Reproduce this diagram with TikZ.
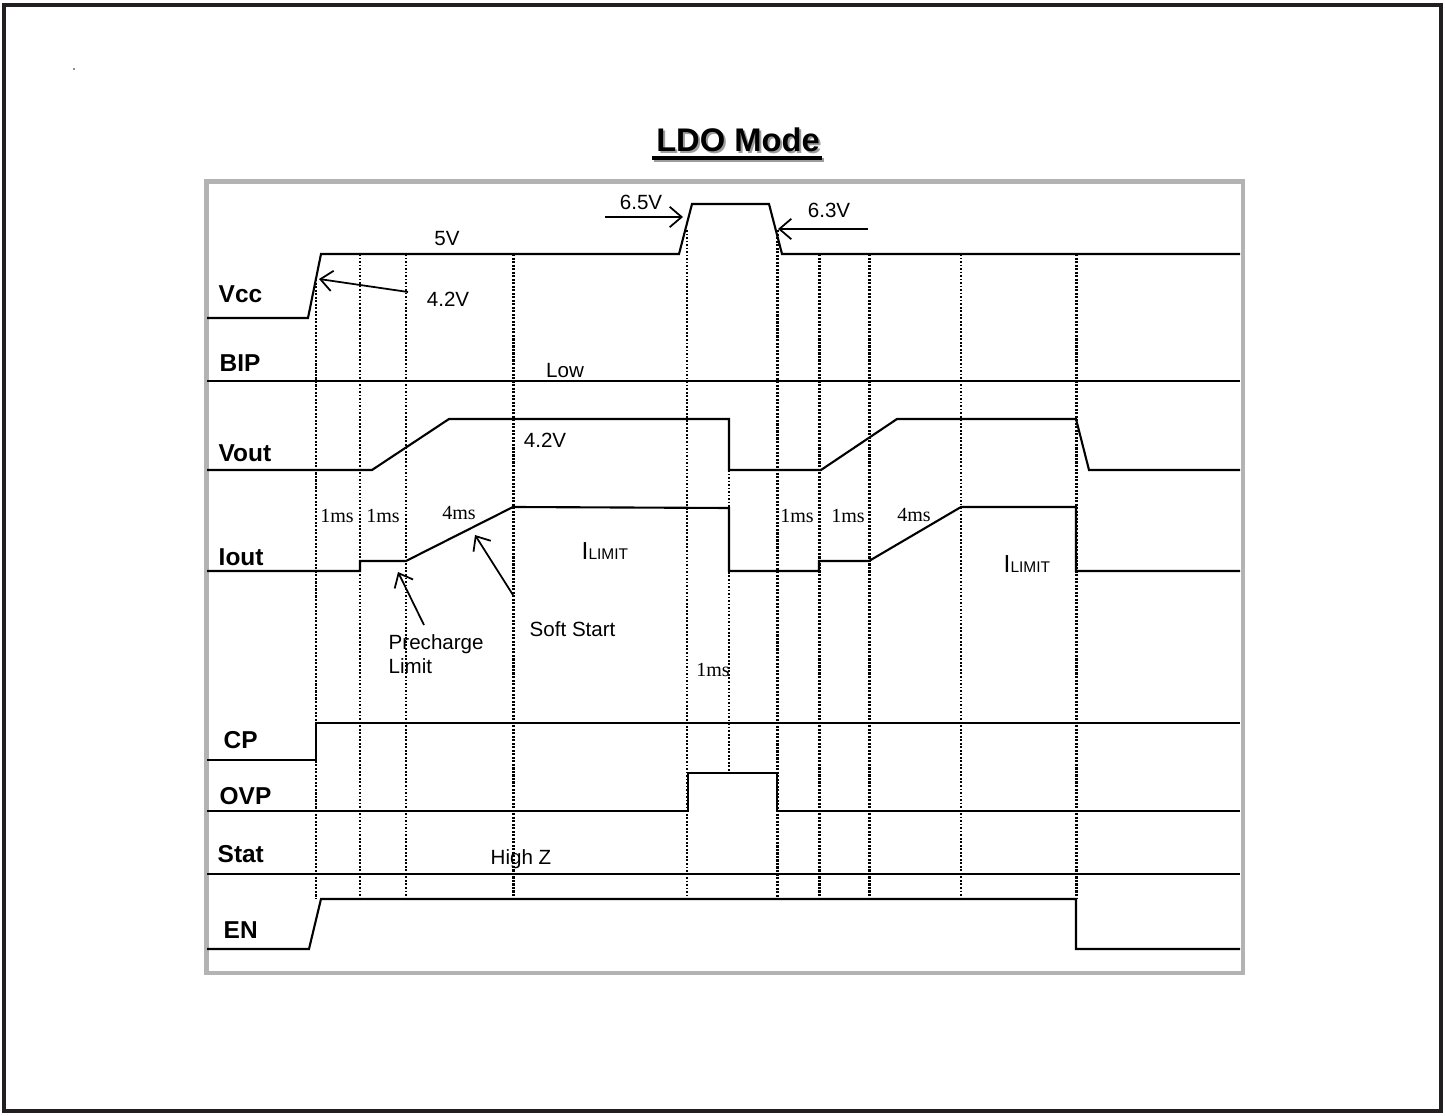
\documentclass[tikz,border=0pt]{standalone}
\usepackage{fontspec}
\setmainfont{Liberation Sans}
\newfontfamily\timesfont{Liberation Serif}
\usetikzlibrary{arrows.meta}
\definecolor{framegray}{HTML}{B3B3B3}
\definecolor{shadowgray}{HTML}{9C9C9C}
\definecolor{outline}{HTML}{231F20}
\newcommand{\titlefont}{\fontsize{9.3}{11}\selectfont\bfseries}
\newcommand{\sigfont}{\fontsize{6.95}{8}\selectfont\bfseries}
\newcommand{\notefont}{\fontsize{5.85}{7}\selectfont}
\newcommand{\msfont}{\timesfont\fontsize{5.7}{7}\selectfont}

\begin{document}
\begin{tikzpicture}[x=0.01cm,y=-0.01cm,
  sig/.style={line width=0.6pt,line join=miter},
  gridline/.style={line width=0.85pt,dash pattern=on 0.6pt off 0.4pt},
  thingrid/.style={line width=0.55pt,dash pattern=on 0.5pt off 0.5pt},
  note/.style={font=\notefont,anchor=base,inner sep=0pt},
  lbl/.style={font=\sigfont,anchor=base west,inner sep=0pt},
  ms/.style={font=\msfont,anchor=base,inner sep=0pt},
  pointer/.style={line width=0.5pt,-{Straight Barb[length=3.4pt,width=5.8pt]}}]

\useasboundingbox (0,0) rectangle (1445,1116);

% ===== Frames =====
\draw[outline,line width=1.15pt] (4,5) rectangle (1441,1111);
\fill[outline] (74,69) circle (0.8);
\draw[framegray,line width=1.4pt] (206.5,181.5) rectangle (1243,973);

% Title
\fill[shadowgray] (654,158.5) rectangle (824,162.5);
\fill (652,156.5) rectangle (822,160.5);
\node[font=\titlefont,text=shadowgray,anchor=base,inner sep=0pt] (titleshadow) at (740,153.5) {LDO Mode};
\node[font=\titlefont,anchor=base,inner sep=0pt] (title) at (738,152) {LDO Mode};

% ===== Time markers =====
\foreach \x/\ytop in {316/279,513/254,777/230,819/254,869/254,1076/254}
  \draw[gridline] (\x,\ytop) -- (\x,899);
\foreach \x/\ytop in {360/254,406/254,687/230,961/254}
  \draw[thingrid] (\x,\ytop) -- (\x,899);
\draw[thingrid] (729,470) -- (729,773);

% ===== Signal names =====
\node[lbl] (vcc) at (218,303) {Vcc};
\node[lbl] (bip) at (219,372) {BIP};
\node[lbl] (vout) at (218,462) {Vout};
\node[lbl] (iout) at (218,566) {Iout};
\node[lbl] (cp) at (223,749) {CP};
\node[lbl] (ovp) at (219,805) {OVP};
\node[lbl] (stat) at (217,863) {Stat};
\node[lbl] (en) at (223,939) {EN};

% ===== Waveforms =====
% Vcc
\draw[sig] (207,318) -- (308,318) -- (321,254) -- (679,254) -- (692,204) -- (769,204)
  -- (782,254) -- (1240,254);
% BIP
\draw[sig] (207,381) -- (1240,381);
% Vout
\draw[sig] (207,470) -- (372,470) -- (449,419) -- (729,419) -- (729,470) -- (821,470)
  -- (897,419) -- (1076,419) -- (1089,470) -- (1240,470);
% Iout
\draw[sig] (207,571) -- (360,571) -- (360,561) -- (406,561) -- (513,507) -- (729,508)
  -- (729,571) -- (819,571) -- (819,561) -- (869,561) -- (961,507) -- (1076,507)
  -- (1076,571) -- (1240,571);
% CP
\draw[sig] (207,760) -- (316,760) -- (316,723) -- (1240,723);
% OVP
\draw[sig] (207,811) -- (688,811) -- (688,773) -- (777,773) -- (777,811) -- (1240,811);
% Stat
\draw[sig] (207,874) -- (1240,874);
% EN
\draw[sig] (207,949) -- (309,949) -- (321,899) -- (1076,899) -- (1076,949) -- (1240,949);

% ===== Levels and annotations =====
\node[note] (vcchigh) at (447,246) {5V};
\node[note] (vccth) at (448,307) {4.2V};
\node[note] (ovpth) at (641,210) {6.5V};
\node[note] (ovprel) at (829,218) {6.3V};
\node[note] (biplow) at (565,378) {Low};
\node[note] (vreg) at (545,448) {4.2V};
\node[note] (highz) at (521,865) {High Z};

\coordinate (vccthtail) at (408,292);
\coordinate (vccthtip) at (319,279);
\draw[pointer] (vccthtail) -- (vccthtip);
\coordinate (ovpthtail) at (605,217);
\coordinate (ovpthtip) at (683,217);
\draw[pointer] (ovpthtail) -- (ovpthtip);
\coordinate (ovpreltail) at (868,229);
\coordinate (ovpreltip) at (778,229);
\draw[pointer] (ovpreltail) -- (ovpreltip);

% Timing
\node[ms] (ta) at (337,523) {1ms};
\node[ms] (tb) at (383,523) {1ms};
\node[ms] (tc) at (459,520) {4ms};
\node[ms] (td) at (797,523) {1ms};
\node[ms] (te) at (848,523) {1ms};
\node[ms] (tf) at (914,522) {4ms};
\node[ms] (tg) at (713,677) {1ms};

% Current limits
\node[anchor=base west,inner sep=0pt] (ilima) at (581,560)
  {\fontsize{7}{8}\selectfont I\fontsize{4.4}{5}\selectfont LIMIT};
\node[anchor=base west,inner sep=0pt] (ilimb) at (1003,573)
  {\fontsize{7}{8}\selectfont I\fontsize{4.4}{5}\selectfont LIMIT};

% Soft start and precharge
\node[note,anchor=base west] (soft) at (529,637) {Soft Start};
\node[note,anchor=base west] (prea) at (388,650) {Precharge};
\node[note,anchor=base west] (preb) at (388,674) {Limit};
\coordinate (softtail) at (513,595);
\coordinate (softtip) at (475,535);
\draw[pointer] (softtail) -- (softtip);
\coordinate (pretail) at (424,625);
\coordinate (pretip) at (398,572);
\draw[pointer] (pretail) -- (pretip);

\end{tikzpicture}
\end{document}
